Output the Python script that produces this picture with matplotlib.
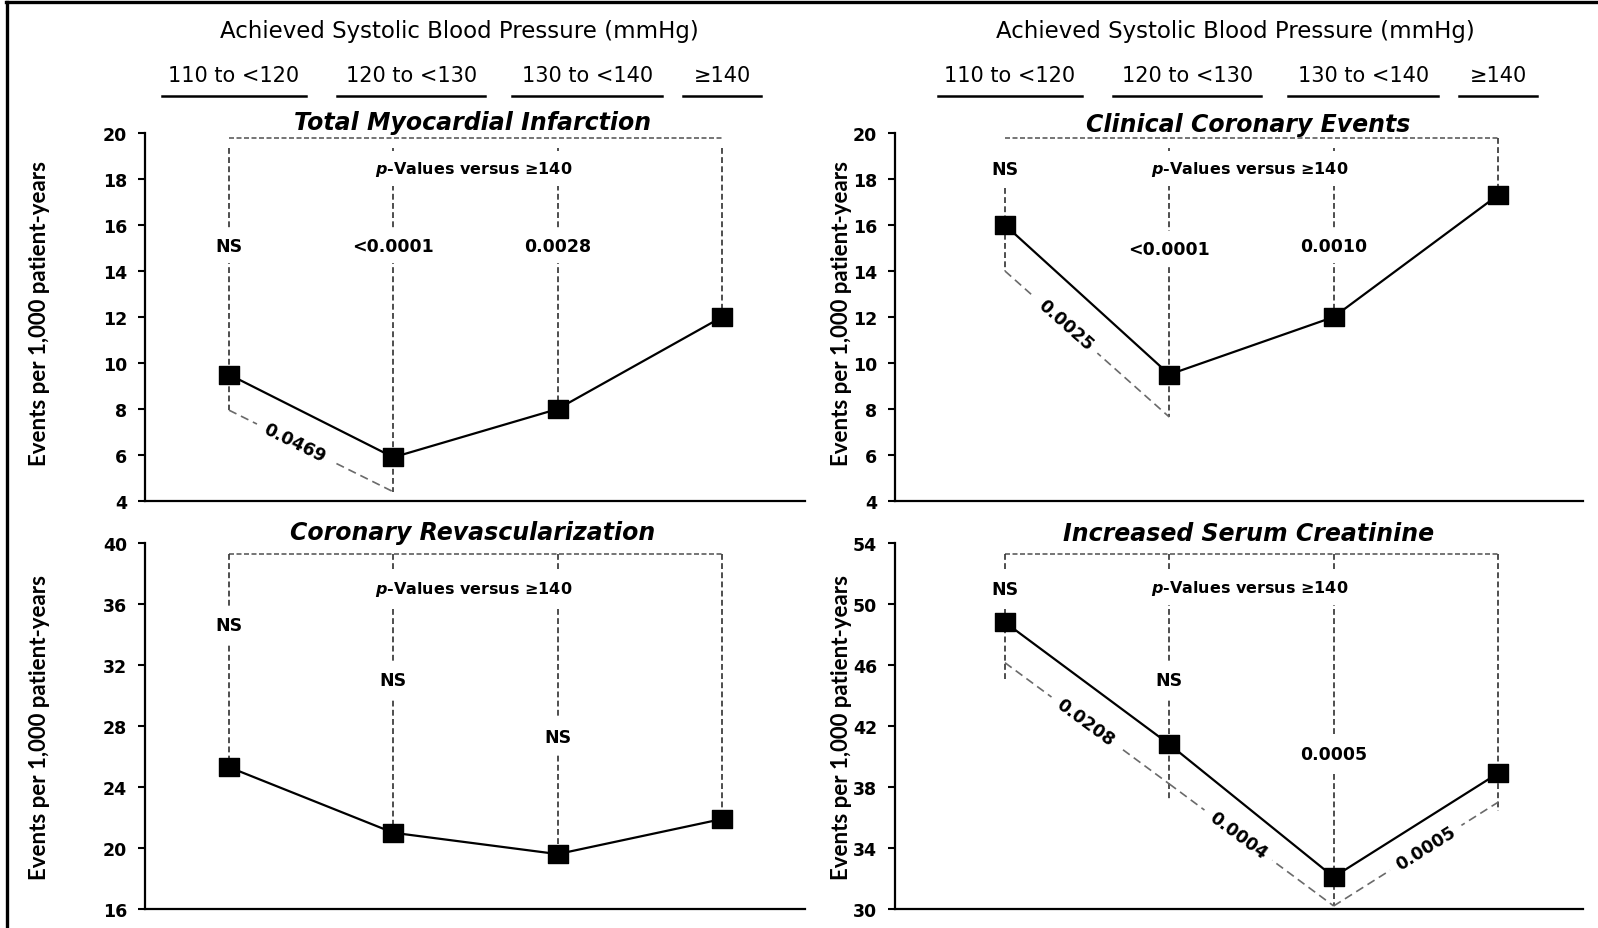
import numpy as np
import matplotlib.pyplot as plt
from matplotlib.path import Path
from matplotlib.lines import Line2D
from matplotlib.transforms import blended_transform_factory

plt.rcParams['font.family'] = ['DejaVu Sans']
plt.rcParams['mathtext.fontset'] = 'custom'
plt.rcParams['mathtext.it'] = 'DejaVu Sans:italic:bold'
plt.rcParams['mathtext.rm'] = 'DejaVu Sans:bold'

# ---- data ----
bp_groups = ['110 to <120', '120 to <130', '130 to <140', '\u2265140']
header = 'Achieved Systolic Blood Pressure (mmHg)'
ylabel = 'Events per 1,000 patient-years'
pv_caption = '$p$-Values versus \u2265140'

titles = ['Total Myocardial Infarction', 'Clinical Coronary Events',
          'Coronary Revascularization', 'Increased Serum Creatinine']

total_mi = [9.5, 5.9, 8.0, 12.0]
coronary_events = [16.0, 9.5, 12.0, 17.3]
revasc = [25.3, 21.0, 19.6, 21.9]
creatinine = [48.8, 40.8, 32.1, 38.9]

# p-values of each group vs >=140
p_mi = ['NS', '<0.0001', '0.0028']
p_events = ['NS', '<0.0001', '0.0010']
p_revasc = ['NS', 'NS', 'NS']
p_creat = ['NS', 'NS', '0.0005']

# p-values between neighbouring groups (from, to, text)
adj_mi = [(0, 1, '0.0469')]
adj_events = [(0, 1, '0.0025')]
adj_revasc = []
adj_creat = [(0, 1, '0.0208'), (1, 2, '0.0004'), (2, 3, '0.0005')]

yticks_mi = [4, 6, 8, 10, 12, 14, 16, 18, 20]
yticks_events = [4, 6, 8, 10, 12, 14, 16, 18, 20]
yticks_revasc = [16, 20, 24, 28, 32, 36, 40]
yticks_creat = [30, 34, 38, 42, 46, 50, 54]

# ---- annotation geometry (data units) ----
# bracket: level of the dashed bracket, tops: where each dashed drop line starts,
# lows: where each drop line ends (None = at the point), anchors: corners of
# the sloped comparison lines, plab: height of the vs-140 labels,
# cap: height of the caption, frac: label position along the sloped lines
geo = [
    dict(bracket=19.8, tops=[19.35, 19.35, 19.35, 19.35], lows=[7.95, 4.4, None, None],
         anchors=[7.95, 4.4, None, None], plab=[15.1, 15.1, 15.1], cap=18.45, frac=[0.40]),
    dict(bracket=19.8, tops=[17.6, 19.35, 19.35, 19.8], lows=[14.0, 7.65, None, None],
         anchors=[14.0, 7.65, None, None], plab=[18.45, 14.95, 15.1], cap=18.45, frac=[0.37]),
    dict(bracket=39.3, tops=[39.3] * 4, lows=[None] * 4,
         anchors=[None] * 4, plab=[34.6, 31.0, 27.3], cap=37.0, frac=[]),
    dict(bracket=53.3, tops=[53.3] * 4, lows=[45.0, 37.1, 30.2, 36.4],
         anchors=[46.15, 38.2, 30.2, 37.0], plab=[51.0, 45.0, 40.15], cap=51.1,
         frac=[0.49, 0.42, 0.56]),
]

W, H = 1598, 929
fig = plt.figure(figsize=(W / 100, H / 100), dpi=100)


def px_rect(x0, x1, y0, y1):
    return [x0 / W, 1 - y1 / H, (x1 - x0) / W, (y1 - y0) / H]


rects = [px_rect(145, 805, 134, 502), px_rect(895, 1583, 134, 502),
         px_rect(145, 805, 544, 910), px_rect(895, 1583, 544, 910)]
xlims = [(0.489, 4.505), (0.331, 4.517), (0.489, 4.505), (0.331, 4.517)]
title_base = [130, 132, 540, 541]
ylab_x = [40, 841, 40, 841]
ylab_y = [313, 313, 728, 728]

# wide square marker
box = Path([(-0.6, -0.5), (0.6, -0.5), (0.6, 0.5), (-0.6, 0.5), (0, 0)],
           [Path.MOVETO, Path.LINETO, Path.LINETO, Path.LINETO, Path.CLOSEPOLY])

white = dict(boxstyle='square,pad=0.5', fc='white', ec='none')

series = [total_mi, coronary_events, revasc, creatinine]
pvals = [p_mi, p_events, p_revasc, p_creat]
adjs = [adj_mi, adj_events, adj_revasc, adj_creat]
yticks = [yticks_mi, yticks_events, yticks_revasc, yticks_creat]

x = np.arange(1, 5)
for k in range(4):
    ax = fig.add_axes(rects[k])
    vals = series[k]
    g = geo[k]
    ax.set_xlim(*xlims[k])
    ax.set_ylim(yticks[k][0], yticks[k][-1])
    ax.set_yticks(yticks[k])
    ax.set_xticks([])
    for s in ['top', 'right']:
        ax.spines[s].set_visible(False)
    for s in ['left', 'bottom']:
        ax.spines[s].set_linewidth(1.6)
    ax.tick_params(axis='y', length=5, width=1.5, pad=8, labelsize=12.5)
    for lab in ax.get_yticklabels():
        lab.set_fontweight('bold')

    # dashed bracket and drop lines
    ax.plot([1, 4], [g['bracket']] * 2, color='#5e5e5e', lw=1.2,
            ls=(0, (3, 1.5)), zorder=1)
    for i in range(4):
        low = g['lows'][i] if g['lows'][i] is not None else vals[i]
        ax.plot([x[i], x[i]], [g['tops'][i], low], color='#303030', lw=1.2,
                ls=(0, (3.5, 2)), zorder=1)

    # comparisons between neighbouring groups
    for (a, b, txt), t in zip(adjs[k], g['frac']):
        ya, yb = g['anchors'][a], g['anchors'][b]
        ax.plot([x[a], x[b]], [ya, yb], color='#6a6a6a', lw=1.2,
                ls=(0, (5, 3)), zorder=1)
        p0 = ax.transData.transform((x[a], ya))
        p1 = ax.transData.transform((x[b], yb))
        ang = np.degrees(np.arctan2(p1[1] - p0[1], p1[0] - p0[0]))
        ax.text(x[a] + t * (x[b] - x[a]), ya + t * (yb - ya), txt,
                rotation=ang, rotation_mode='anchor', ha='center', va='center',
                fontsize=12.5, fontweight='bold', bbox=white, zorder=3)

    # p-values vs >=140
    for i, txt in enumerate(pvals[k]):
        ax.text(x[i], g['plab'][i], txt, ha='center', va='center',
                fontsize=12.5, fontweight='bold', bbox=white, zorder=3)
    ax.text(2.49, g['cap'], pv_caption, ha='center', va='center',
            fontsize=11.5, fontweight='bold', bbox=white, zorder=3)

    ax.plot(x, vals, color='black', lw=1.6, marker=box, ms=15,
            mfc='black', mec='black', zorder=5)

    trans = blended_transform_factory(ax.transData, fig.transFigure)
    ax.text(2.48, 1 - title_base[k] / H, titles[k], transform=trans,
            ha='center', va='baseline', fontsize=17, fontweight='bold',
            style='italic')
    fig.text(ylab_x[k] / W, 1 - ylab_y[k] / H, ylabel, rotation=90,
             ha='center', va='center', fontsize=16, fontweight='bold',
             family='Lato')

    # blood pressure group header above the top row
    if k < 2:
        ax.text(2.4, 1 - 38.3 / H, header, transform=trans, ha='center',
                va='baseline', fontsize=16.5)
        for i, (cx, w) in enumerate(zip([1.03, 2.11, 3.18, 4.0],
                                        [0.88, 0.9, 0.91, 0.47])):
            ax.text(cx, 1 - 81.7 / H, bp_groups[i], transform=trans,
                    ha='center', va='baseline', fontsize=15)
            ax.plot([cx - w / 2, cx + w / 2], [1 - 96.7 / H] * 2,
                    transform=trans, color='black', lw=1.8, clip_on=False)

# frame lines along the top and left edges
fig.add_artist(Line2D([6 / W, 1], [1 - 3 / H] * 2, transform=fig.transFigure,
                      color='black', lw=2.4))
fig.add_artist(Line2D([6.5 / W] * 2, [0, 1 - 3 / H], transform=fig.transFigure,
                      color='black', lw=2.4))

fig.savefig('out.png', dpi=100, facecolor='white')
